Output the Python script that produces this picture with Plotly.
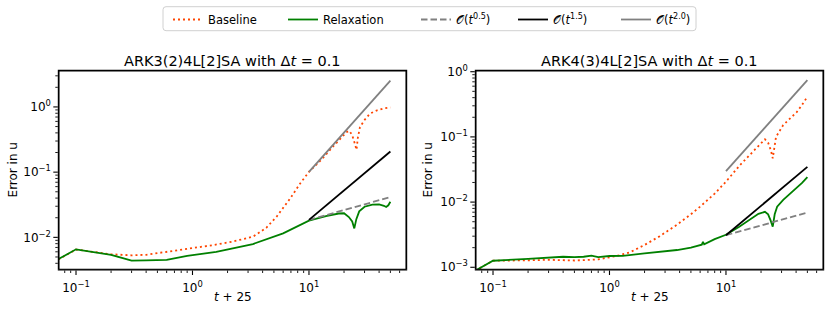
import plotly.graph_objects as go

# ---------------- data ----------------
# left panel: ARK3(2)4L[2]SA
L_base_x = [0.05, 0.1, 0.2, 0.3, 0.4, 0.5, 0.7, 1.0, 1.5, 2.2, 3.3, 4.3, 5.3, 6.9, 8.4, 10,
            13, 16, 19, 21, 22.2, 23.5, 24.8, 25.6, 26.3, 27.4, 30, 33.4, 38, 44, 50]
L_base_y = [0.00325, 0.0065, 0.0055, 0.0053, 0.0054, 0.0057, 0.0062, 0.0068, 0.0076, 0.0086,
            0.0102, 0.0140, 0.021, 0.0395, 0.067, 0.101, 0.16, 0.244, 0.34, 0.41, 0.43, 0.37,
            0.27, 0.22, 0.34, 0.49, 0.63, 0.79, 0.88, 0.95, 0.98]
L_relax_x = [0.05, 0.1, 0.2, 0.3, 0.4, 0.5, 0.6, 0.9, 1.6, 3.3, 6.0, 10, 14, 18, 20, 22,
             23.5, 24.5, 25.5, 27, 30, 35, 40, 44, 46, 48, 50]
L_relax_y = [0.00328, 0.00655, 0.0054, 0.0044, 0.00442, 0.00445, 0.0045, 0.0052, 0.0060,
             0.0079, 0.0115, 0.0180, 0.0212, 0.0232, 0.0234, 0.0205, 0.0175, 0.0137, 0.019,
             0.025, 0.0295, 0.0318, 0.0320, 0.0305, 0.0292, 0.031, 0.0352]
L_ref_x = [10, 50]
L_ref05_y = [0.0185, 0.0414]
L_ref15_y = [0.0185, 0.207]
L_ref20_y = [0.101, 2.53]

# right panel: ARK4(3)4L[2]SA
R_base_x = [0.05, 0.1, 0.2, 0.3, 0.5, 0.8, 1.0, 1.2, 1.5, 2.0, 2.7, 3.8, 5.0, 6.0, 8.0, 10,
            13.2, 17, 20, 21.6, 23.1, 24.3, 25.2, 26.0, 26.9, 31, 35, 40.5, 45, 50]
R_base_y = [0.00063, 0.00126, 0.00128, 0.0013, 0.00127, 0.00132, 0.00142, 0.00152, 0.0017,
            0.0022, 0.0030, 0.0045, 0.0065, 0.0085, 0.0135, 0.0206, 0.037, 0.058, 0.080,
            0.092, 0.080, 0.062, 0.047, 0.075, 0.100, 0.152, 0.19, 0.24, 0.31, 0.414]
R_relax_x = [0.05, 0.1, 0.2, 0.3, 0.4, 0.5, 0.6, 0.7, 0.8, 1.0, 1.3, 2.0, 3.0, 3.8, 5.0,
             6.2, 6.35, 6.5, 8.0, 10, 13, 16, 19, 21.6, 23, 24.2, 25.2, 26.2, 27.5, 31, 35,
             40.5, 45, 50]
R_relax_y = [0.00063, 0.00126, 0.00135, 0.00142, 0.00145, 0.00143, 0.00145, 0.00151, 0.00143,
             0.00149, 0.0015, 0.00164, 0.00175, 0.00184, 0.0020, 0.00222, 0.00245, 0.00225,
             0.0027, 0.00315, 0.0042, 0.00545, 0.0066, 0.0071, 0.0065, 0.0052, 0.0042,
             0.0065, 0.0085, 0.0108, 0.0130, 0.0163, 0.0197, 0.0242]
R_ref_x = [10, 50]
R_ref05_y = [0.0031, 0.00693]
R_ref15_y = [0.0031, 0.0347]
R_ref20_y = [0.0298, 0.745]

series_names = ["Baseline", "Relaxation", "𝒪(<i>t</i><sup>0.5</sup>)",
                "𝒪(<i>t</i><sup>1.5</sup>)", "𝒪(<i>t</i><sup>2.0</sup>)"]
titles = ["ARK3(2)4L[2]SA with Δ<i>t</i> = 0.1", "ARK4(3)4L[2]SA with Δ<i>t</i> = 0.1"]
x_label = "<i>t</i> + 25"
y_label = "Error in u"
x_tickvals = [0.1, 1, 10]
x_ticktext = ["10<sup>−1</sup>", "10<sup>0</sup>", "10<sup>1</sup>"]
yL_tickvals = [0.01, 0.1, 1]
yL_ticktext = ["10<sup>−2</sup>", "10<sup>−1</sup>", "10<sup>0</sup>"]
yR_tickvals = [0.001, 0.01, 0.1, 1]
yR_ticktext = ["10<sup>−3</sup>", "10<sup>−2</sup>", "10<sup>−1</sup>", "10<sup>0</sup>"]

# ---------------- styling ----------------
W, H = 830, 312
FONT = "DejaVu Sans"
C_BASE = "#ff4500"
C_RELAX = "#008000"
C_GRAY = "#808080"
C_BLACK = "#000000"
LW = 1.8

styles = [
    dict(color=C_BASE, width=LW, dash="2px,3px"),
    dict(color=C_RELAX, width=LW),
    dict(color=C_GRAY, width=LW, dash="6.5px,3px"),
    dict(color=C_BLACK, width=LW),
    dict(color=C_GRAY, width=LW),
]

fig = go.Figure()
legend_ids = ["legend", "legend2", "legend3", "legend4", "legend5"]

panels = [
    ("x", "y", [(L_base_x, L_base_y), (L_relax_x, L_relax_y), (L_ref_x, L_ref05_y),
                (L_ref_x, L_ref15_y), (L_ref_x, L_ref20_y)]),
    ("x2", "y2", [(R_base_x, R_base_y), (R_relax_x, R_relax_y), (R_ref_x, R_ref05_y),
                  (R_ref_x, R_ref15_y), (R_ref_x, R_ref20_y)]),
]
for pi, (xa, ya, sers) in enumerate(panels):
    for k, (xs, ys) in enumerate(sers):
        fig.add_trace(go.Scatter(
            x=xs, y=ys, mode="lines", name=series_names[k], line=styles[k],
            xaxis=xa, yaxis=ya, showlegend=(pi == 0), legend=legend_ids[k],
            hoverinfo="skip"))


def px_x(p):
    return p / W


def px_y(p):
    return 1 - p / H


axL = (59, 406)
axR = (476, 823)
ax_top, ax_bot = 71, 269.3


def minor_vals(lo_exp, hi_exp):
    vals = []
    for e in range(lo_exp, hi_exp + 1):
        for m in range(2, 10):
            vals.append(m * 10.0 ** e)
    return vals


tickfont = dict(family=FONT, size=12, color="black")
common_axis = dict(type="log", showline=True, linecolor="#000000", linewidth=1.2,
                   mirror=True, ticks="outside", ticklen=4.5, tickwidth=1.1,
                   tickcolor="#000000", showgrid=False, zeroline=False, tickfont=tickfont,
                   automargin=False)


def minor(lo, hi):
    return dict(tickmode="array", tickvals=minor_vals(lo, hi), ticks="outside",
                ticklen=2.5, tickwidth=0.9, tickcolor="#000000")


xrange_log = [-1.146, 1.833]
fig.update_layout(
    xaxis=dict(domain=[px_x(axL[0]), px_x(axL[1])], range=xrange_log, anchor="y",
               tickmode="array", tickvals=x_tickvals, ticktext=x_ticktext,
               minor=minor(-2, 1), ticklabelstandoff=3, **common_axis),
    yaxis=dict(domain=[px_y(ax_bot), px_y(ax_top)], range=[-2.49, 0.551], anchor="x",
               tickmode="array", tickvals=yL_tickvals, ticktext=yL_ticktext,
               minor=minor(-3, 0), **common_axis),
    xaxis2=dict(domain=[px_x(axR[0]), px_x(axR[1])], range=xrange_log, anchor="y2",
                tickmode="array", tickvals=x_tickvals, ticktext=x_ticktext,
                minor=minor(-2, 1), ticklabelstandoff=3, **common_axis),
    yaxis2=dict(domain=[px_y(ax_bot), px_y(ax_top)], range=[-3.031, 0.011], anchor="x2",
                tickmode="array", tickvals=yR_tickvals, ticktext=yR_ticktext,
                minor=minor(-4, 0), **common_axis),
    width=W, height=H,
    margin=dict(l=0, r=0, t=0, b=0),
    paper_bgcolor="white", plot_bgcolor="white",
    font=dict(family=FONT, size=12, color="black"),
)

# legend: one entry per legend so each sits where the original places it
leg_starts = [168, 283, 416, 513, 616]
leg_font = dict(family=FONT, size=11.5, color="black")
for lid, xs in zip(legend_ids, leg_starts):
    fig.update_layout({lid: dict(x=px_x(xs), y=px_y(5), xanchor="left", yanchor="top",
                                 orientation="h", bgcolor="rgba(0,0,0,0)", borderwidth=0,
                                 font=leg_font, itemwidth=30)})

# legend frame (rounded rectangle)
x0, x1 = px_x(163), px_x(696)
y0, y1 = px_y(30.7), px_y(6.7)
rx, ry = 3 / W, 3 / H
path = (f"M{x0+rx},{y1} L{x1-rx},{y1} Q{x1},{y1} {x1},{y1-ry} L{x1},{y0+ry} "
        f"Q{x1},{y0} {x1-rx},{y0} L{x0+rx},{y0} Q{x0},{y0} {x0},{y0+ry} L{x0},{y1-ry} "
        f"Q{x0},{y1} {x0+rx},{y1} Z")
fig.add_shape(type="path", path=path, xref="paper", yref="paper",
              line=dict(color="#d0d0d0", width=1), fillcolor="rgba(255,255,255,0.8)",
              layer="below")

# axes frames (drawn as paths as well, so they always show)
for (a, b) in [axL, axR]:
    fx0, fx1 = px_x(a), px_x(b)
    fy0, fy1 = px_y(ax_bot), px_y(ax_top)
    fig.add_shape(type="path", xref="paper", yref="paper",
                  path=f"M{fx0},{fy0} L{fx1},{fy0} L{fx1},{fy1} L{fx0},{fy1} Z",
                  line=dict(color="#000000", width=1.1), fillcolor="rgba(0,0,0,0)",
                  layer="above")

ann = []
for (a, b), t in zip([axL, axR], titles):
    ann.append(dict(text=t, x=px_x((a + b) / 2), y=px_y(61.5), xref="paper", yref="paper",
                    showarrow=False, xanchor="center", yanchor="middle",
                    font=dict(family=FONT, size=14.5, color="black")))
    ann.append(dict(text=x_label, x=px_x((a + b) / 2), y=px_y(297), xref="paper",
                    yref="paper", showarrow=False, xanchor="center", yanchor="middle",
                    font=dict(family=FONT, size=12, color="black")))
for xc in [13.3, 428.3]:
    ann.append(dict(text=y_label, x=px_x(xc), y=px_y((ax_top + ax_bot) / 2), xref="paper",
                    yref="paper", showarrow=False, xanchor="center", yanchor="middle",
                    textangle=-90, font=dict(family=FONT, size=12, color="black")))
fig.update_layout(annotations=ann)

post = (
    "document.body.style.margin='0px';"
    "document.body.style.padding='0px';"
    "document.documentElement.style.overflow='hidden';"
    "var s=document.createElement('style');"
    "s.textContent='.js-plotly-plot .plotly .crisp{shape-rendering:auto !important;}';"
    "document.head.appendChild(s);"
)
fig.write_html("out.html", config={"displayModeBar": False, "staticPlot": True},
               post_script=post)
